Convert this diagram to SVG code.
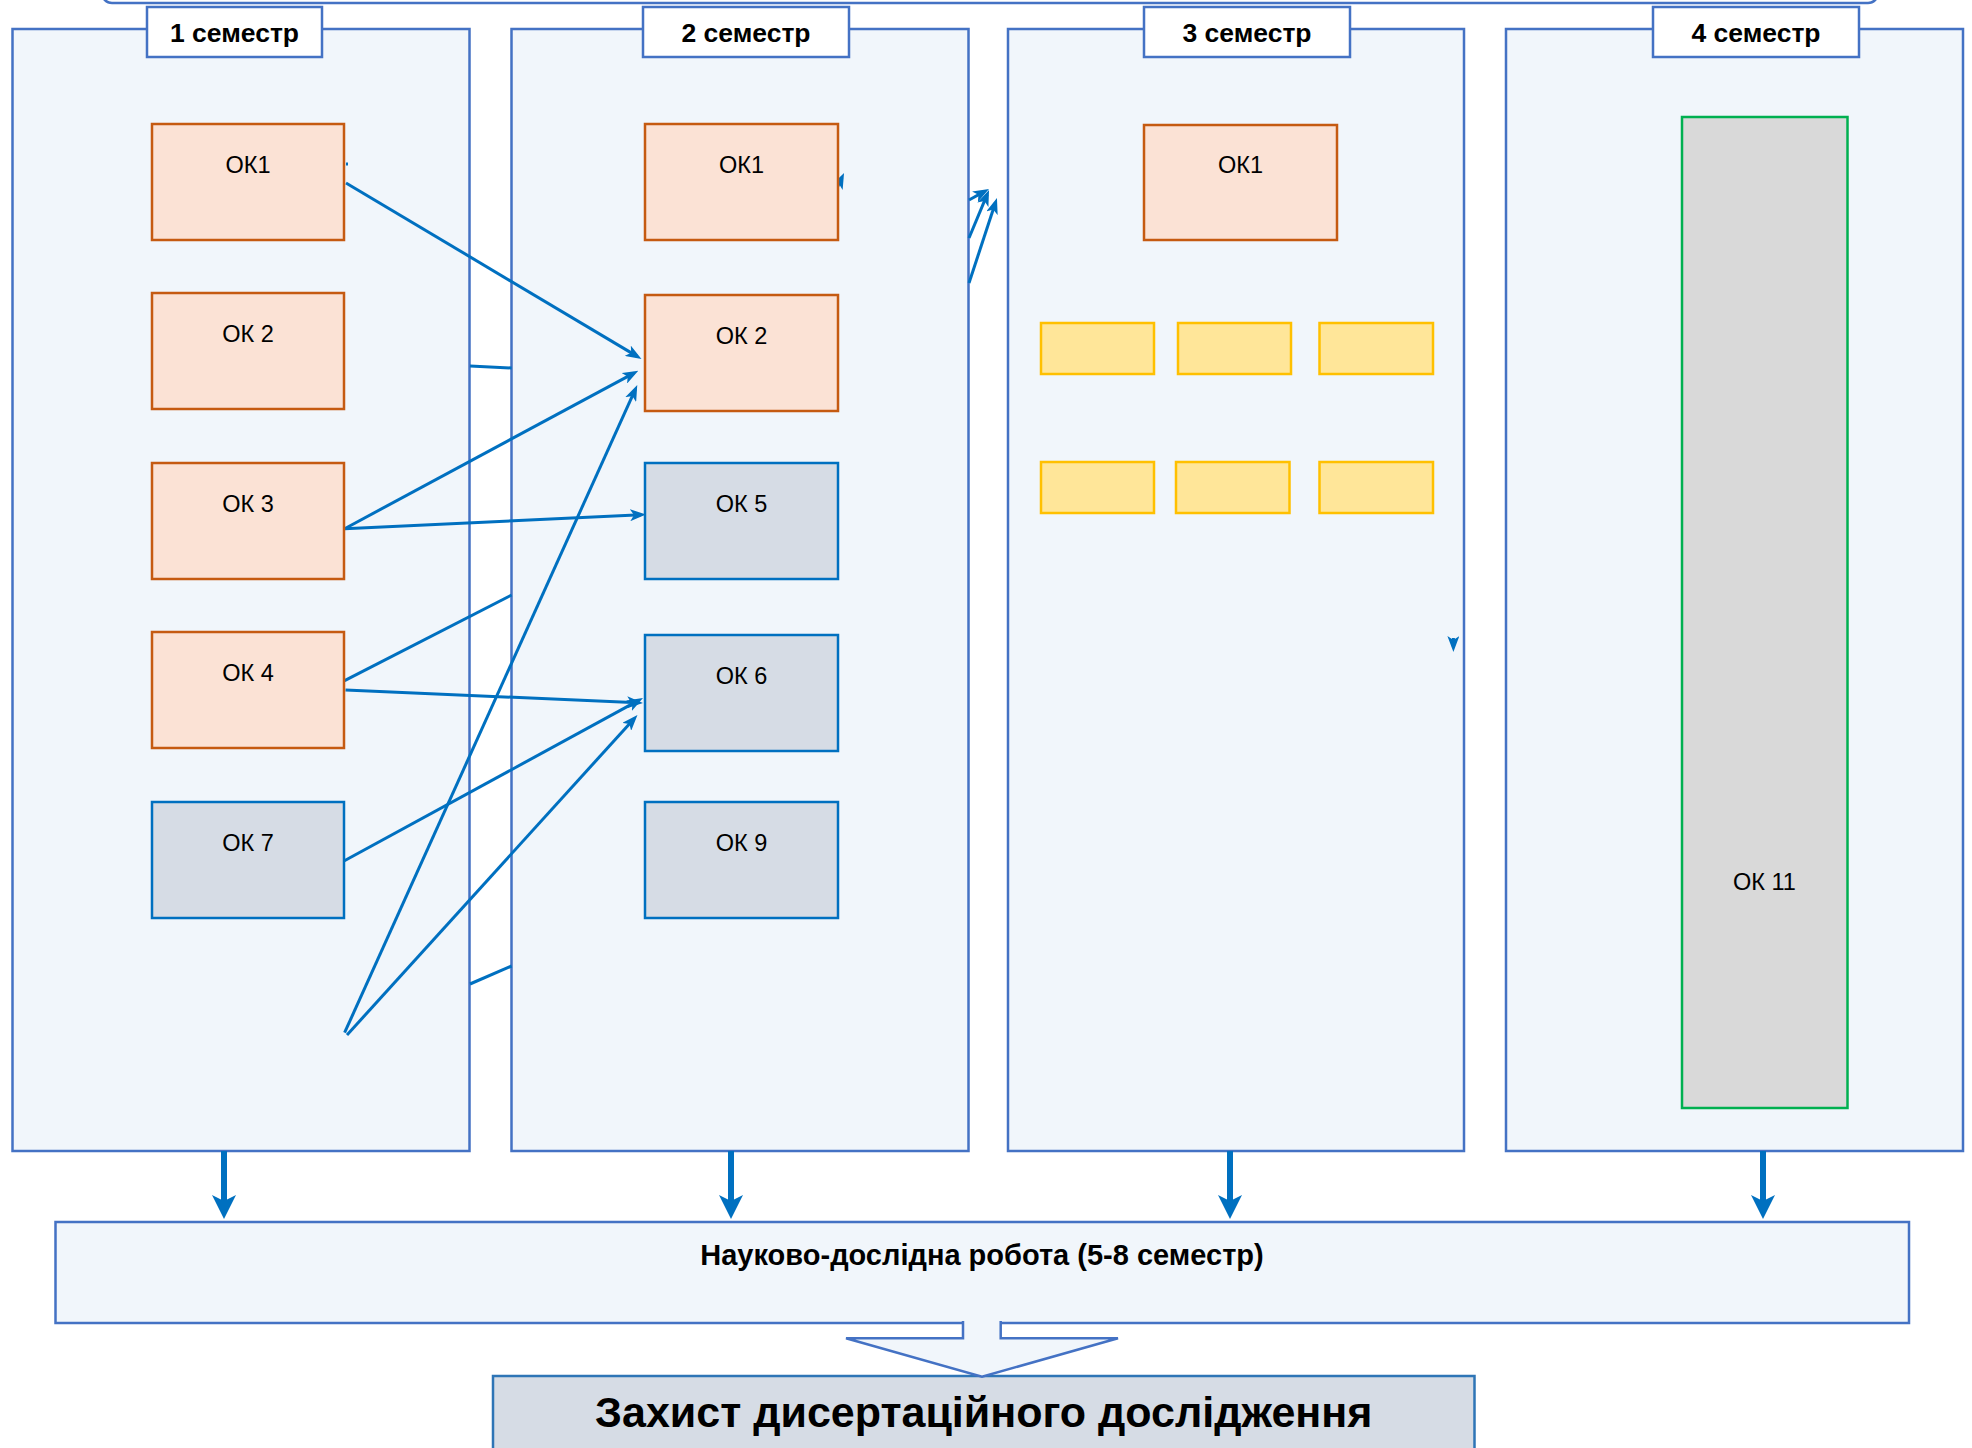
<svg xmlns="http://www.w3.org/2000/svg" width="1972" height="1448" viewBox="0 0 1972 1448">
<style>
.col{fill:#F1F6FB;stroke:#4472C4;stroke-width:2.5}
.ttl{fill:#FFFFFF;stroke:#4472C4;stroke-width:2.5}
.ttxt{font-family:"Liberation Sans",Arial,sans-serif;font-weight:bold;font-size:26.5px;fill:#000;text-anchor:middle}
.org{fill:#FBE2D5;stroke:#C55A11;stroke-width:2.5}
.gry{fill:#D6DCE5;stroke:#0070C0;stroke-width:2.5}
.yel{fill:#FFE699;stroke:#FFC000;stroke-width:2.5}
.lbl{font-family:"Liberation Sans",Arial,sans-serif;font-size:23.5px;fill:#000;text-anchor:middle}
.cn{stroke:#0070C0;stroke-width:3;fill:none}
.cna{stroke:#0070C0;stroke-width:3;fill:none;marker-end:url(#ah)}
.big{stroke:#0070C0;stroke-width:6;fill:none;marker-end:url(#ahb)}
</style>
<defs>
<marker id="ah" viewBox="0 0 16 12" refX="11" refY="6" markerWidth="16" markerHeight="12" markerUnits="userSpaceOnUse" orient="auto"><path d="M0,0 L16,6 L0,12 L4,6 Z" fill="#0070C0"/></marker>
<marker id="ahb" viewBox="0 0 24 24" refX="10" refY="12" markerWidth="24" markerHeight="24" markerUnits="userSpaceOnUse" orient="auto"><path d="M0,0 L24,12 L0,24 L6,12 Z" fill="#0070C0"/></marker>
</defs>
<rect width="1972" height="1448" fill="#FFFFFF"/>
<rect id="frame" x="102" y="-40" width="1776" height="43" rx="10" fill="none" stroke="#4472C4" stroke-width="2.5"/>

<g id="sem1">
<rect class="col" x="12.5" y="29" width="457" height="1122"/>
<rect class="ttl" x="147" y="7" width="175" height="50"/>
<text class="ttxt" x="234.5" y="42">1 семестр</text>
</g>
<g id="sem2">
<rect class="col" x="511.5" y="29" width="457" height="1122"/>
<rect class="ttl" x="643" y="7" width="206" height="50"/>
<text class="ttxt" x="746" y="42">2 семестр</text>
</g>
<g id="sem3">
<rect class="col" x="1008" y="29" width="456" height="1122"/>
<rect class="ttl" x="1144" y="7" width="206" height="50"/>
<text class="ttxt" x="1247" y="42">3 семестр</text>
</g>
<g id="sem4">
<rect class="col" x="1506" y="29" width="457" height="1122"/>
<rect class="ttl" x="1653" y="7" width="206" height="50"/>
<text class="ttxt" x="1756" y="42">4 семестр</text>
</g>

<g id="connectors">
<line class="cn" x1="346" y1="164" x2="348" y2="164"/>
<line class="cna" x1="346" y1="183" x2="637.2" y2="356.4"/>
<line class="cna" x1="344.6" y1="528.7" x2="633.9" y2="373.1"/>
<line class="cna" x1="344.6" y1="528.7" x2="641" y2="514.7"/>
<line class="cna" x1="344.6" y1="1032.7" x2="635.2" y2="389.6"/>
<line class="cn" x1="344.6" y1="680.6" x2="511.6" y2="595"/>
<line class="cna" x1="345.5" y1="690" x2="638" y2="702.8"/>
<line class="cna" x1="335.7" y1="865.5" x2="638.6" y2="700.4"/>
<line class="cna" x1="347" y1="1035" x2="634.1" y2="718.7"/>
<line class="cn" x1="470" y1="366" x2="511.6" y2="368"/>
<line class="cn" x1="470" y1="984" x2="511.6" y2="966"/>
<line class="cna" x1="836" y1="190" x2="841.9" y2="177.5"/>
<line class="cna" x1="969" y1="200" x2="984.6" y2="191.4"/>
<line class="cna" x1="969" y1="238" x2="987.1" y2="194.6"/>
<line class="cna" x1="969" y1="283" x2="995.4" y2="202.8"/>
<line class="cna" x1="1453.4" y1="638" x2="1453.4" y2="647"/>
<line class="big" x1="224" y1="1151" x2="224" y2="1205"/>
<line class="big" x1="731" y1="1151" x2="731" y2="1205"/>
<line class="big" x1="1230" y1="1151" x2="1230" y2="1205"/>
<line class="big" x1="1763" y1="1151" x2="1763" y2="1205"/>
</g>

<g id="s1-ok1"><rect class="org" x="152" y="124" width="192" height="116"/><text class="lbl" x="248" y="173">ОК1</text></g>
<g id="s1-ok2"><rect class="org" x="152" y="293" width="192" height="116"/><text class="lbl" x="248" y="342">ОК 2</text></g>
<g id="s1-ok3"><rect class="org" x="152" y="463" width="192" height="116"/><text class="lbl" x="248" y="512">ОК 3</text></g>
<g id="s1-ok4"><rect class="org" x="152" y="632" width="192" height="116"/><text class="lbl" x="248" y="681">ОК 4</text></g>
<g id="s1-ok7"><rect class="gry" x="152" y="802" width="192" height="116"/><text class="lbl" x="248" y="851">ОК 7</text></g>

<g id="s2-ok1"><rect class="org" x="645" y="124" width="193" height="116"/><text class="lbl" x="741.5" y="173">ОК1</text></g>
<g id="s2-ok2"><rect class="org" x="645" y="295" width="193" height="116"/><text class="lbl" x="741.5" y="344">ОК 2</text></g>
<g id="s2-ok5"><rect class="gry" x="645" y="463" width="193" height="116"/><text class="lbl" x="741.5" y="512">ОК 5</text></g>
<g id="s2-ok6"><rect class="gry" x="645" y="635" width="193" height="116"/><text class="lbl" x="741.5" y="684">ОК 6</text></g>
<g id="s2-ok9"><rect class="gry" x="645" y="802" width="193" height="116"/><text class="lbl" x="741.5" y="851">ОК 9</text></g>

<g id="s3-ok1"><rect class="org" x="1144" y="125" width="193" height="115"/><text class="lbl" x="1240.5" y="173">ОК1</text></g>
<g id="s3-y1"><rect class="yel" x="1041" y="323" width="113" height="51"/></g>
<g id="s3-y2"><rect class="yel" x="1178" y="323" width="113" height="51"/></g>
<g id="s3-y3"><rect class="yel" x="1319.5" y="323" width="113.5" height="51"/></g>
<g id="s3-y4"><rect class="yel" x="1041" y="462" width="113" height="51"/></g>
<g id="s3-y5"><rect class="yel" x="1176" y="462" width="113.5" height="51"/></g>
<g id="s3-y6"><rect class="yel" x="1319.5" y="462" width="113.5" height="51"/></g>

<g id="s4-ok11"><rect x="1682" y="117" width="165.5" height="991" fill="#D9D9D9" stroke="#00B050" stroke-width="2.5"/><text class="lbl" x="1764.5" y="890">ОК 11</text></g>

<g id="research">
<rect x="55.5" y="1222" width="1853.5" height="101" fill="#F1F6FB" stroke="#4472C4" stroke-width="2.5"/>
<text x="982" y="1265" font-family="'Liberation Sans',Arial,sans-serif" font-weight="bold" font-size="29" text-anchor="middle">Науково-дослідна робота (5-8 семестр)</text>
</g>
<g id="defense">
<rect x="493" y="1376" width="981.5" height="100" fill="#D6DCE5" stroke="#2E75B6" stroke-width="2.5"/>
<text x="983.7" y="1427" font-family="'Liberation Sans',Arial,sans-serif" font-weight="bold" font-size="43" text-anchor="middle">Захист дисертаційного дослідження</text>
</g>
<g id="flow-arrow">
<path d="M963,1321 L963,1338.3 L846,1338.3 L982,1376.7 L1118,1338.3 L1000.7,1338.3 L1000.7,1321" fill="#F1F6FB" stroke="#4472C4" stroke-width="2.5"/>
</g>
</svg>
